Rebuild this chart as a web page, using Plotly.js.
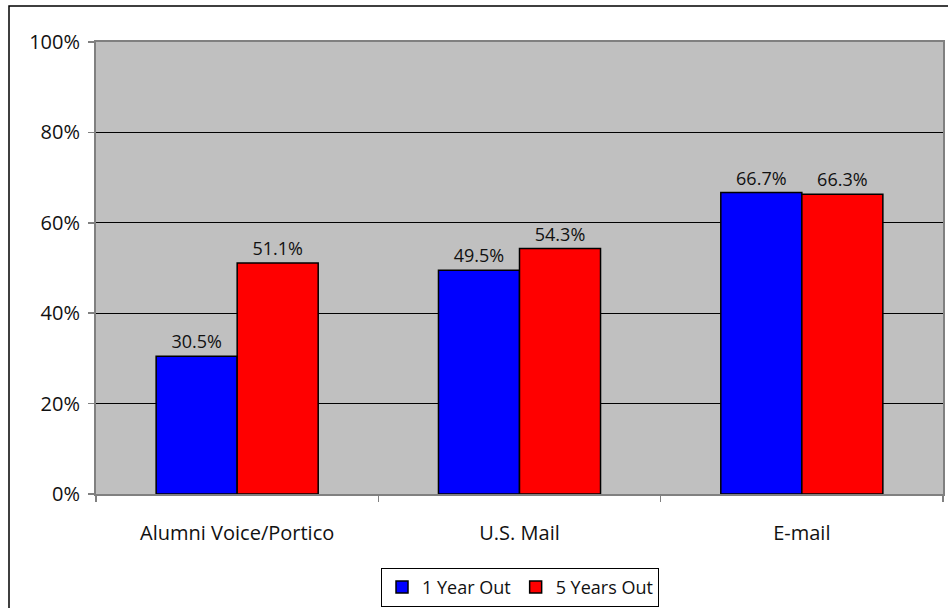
<!DOCTYPE html>
<html>
<head>
<meta charset="utf-8">
<script src="https://cdn.plot.ly/plotly-3.0.1.min.js"></script>
<style>
html,body{margin:0;padding:0;background:#fff;}
#chart{width:948px;height:608px;}
</style>
</head>
<body>
<div id="chart"></div>
<script>
var categories = ["Alumni Voice/Portico", "U.S. Mail", "E-mail"];
var oneYearOut = [30.5, 49.5, 66.7];
var fiveYearsOut = [51.1, 54.3, 66.3];
var seriesNames = ["1 Year Out", "5 Years Out"];
var yTicks = [0, 20, 40, 60, 80, 100];
var yTickLabels = ["0%", "20%", "40%", "60%", "80%", "100%"];

var font = "Open Sans, Noto Sans, Liberation Sans, sans-serif";

var traces = [
  {
    type: "bar", x: categories, y: oneYearOut, name: seriesNames[0],
    marker: {color: "#0000FF", line: {color: "#000000", width: 1.5}},
    text: oneYearOut.map(function(v){return v.toFixed(1) + "%";}),
    textposition: "outside", cliponaxis: false,
    textfont: {family: font, size: 18, color: "#111111"}
  },
  {
    type: "bar", x: categories, y: fiveYearsOut, name: seriesNames[1],
    marker: {color: "#FF0000", line: {color: "#000000", width: 1.5}},
    text: fiveYearsOut.map(function(v){return v.toFixed(1) + "%";}),
    textposition: "outside", cliponaxis: false,
    textfont: {family: font, size: 18, color: "#111111"}
  }
];

var layout = {
  width: 948, height: 608,
  margin: {l: 96, r: 5, t: 42, b: 114, autoexpand: false},
  paper_bgcolor: "#FFFFFF",
  plot_bgcolor: "#C0C0C0",
  font: {family: font, size: 18, color: "#111111"},
  barmode: "group",
  bargap: 0.426,
  bargroupgap: 0,
  showlegend: true,
  legend: {
    orientation: "h", x: 0.5006, xanchor: "center", y: -0.163, yanchor: "top",
    bordercolor: "#000000", borderwidth: 1, bgcolor: "#FFFFFF",
    font: {family: font, size: 18, color: "#111111"},
    itemwidth: 30, tracegroupgap: 0
  },
  xaxis: {
    type: "category",
    showline: true, linecolor: "#808080", linewidth: 2,
    ticks: "outside", tickson: "boundaries", ticklen: 6, tickcolor: "#808080", tickwidth: 1.5,
    tickfont: {family: font, size: 20, color: "#111111"},
    ticklabelstandoff: 20,
    showgrid: false, mirror: true, automargin: false
  },
  yaxis: {
    range: [0, 100], tickmode: "array", tickvals: yTicks, ticktext: yTickLabels,
    showline: true, linecolor: "#808080", linewidth: 2, mirror: true,
    ticks: "outside", ticklen: 6, tickcolor: "#808080", tickwidth: 1.5,
    ticklabelstandoff: 4,
    showgrid: true, gridcolor: "#000000", gridwidth: 1,
    tickfont: {family: font, size: 20, color: "#111111"},
    zeroline: false, automargin: false
  },
  shapes: [
    {type: "rect", xref: "paper", yref: "paper",
     x0: (9 - 96) / 847, x1: (960 - 96) / 847,
     y0: (494 - 620) / 452, y1: (494 - 6) / 452,
     line: {color: "#000000", width: 1.5}, fillcolor: "rgba(0,0,0,0)", layer: "below"}
  ]
};

Plotly.newPlot("chart", traces, layout, {displayModeBar: false, staticPlot: true});
</script>
</body>
</html>
